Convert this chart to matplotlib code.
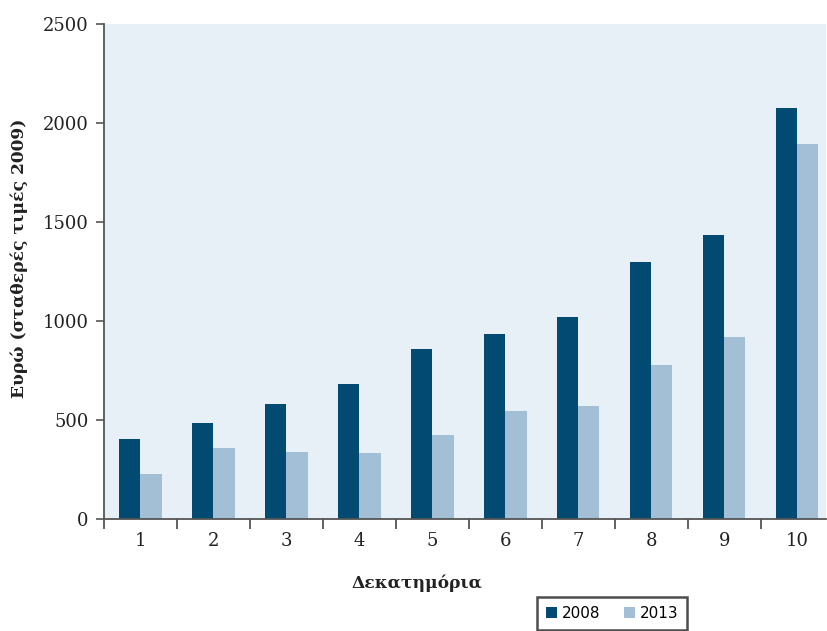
import numpy as np
import matplotlib
matplotlib.use('Agg')
import matplotlib.pyplot as plt

deciles = ['1', '2', '3', '4', '5', '6', '7', '8', '9', '10']
values_2008 = [404, 485, 581, 682, 858, 934, 1020, 1298, 1434, 2076]
values_2013 = [227, 358, 338, 333, 424, 545, 571, 778, 919, 1894]
series_labels = ['2008', '2013']

plt.rcParams['font.family'] = ['DejaVu Serif']

fig = plt.figure(figsize=(8.27, 6.31), dpi=100)
ax = fig.add_axes([104 / 827, 1 - 519 / 631, 722 / 827, 495 / 631])
ax.set_facecolor('#E8F0F7')

x = np.arange(len(deciles))
width = 0.29
ax.bar(x - width / 2, values_2008, width, color='#024A72', label=series_labels[0])
ax.bar(x + width / 2, values_2013, width, color='#A3BFD6', label=series_labels[1])

ax.set_xlim(-0.5, 9.394)
ax.set_ylim(0, 2500)
ax.set_yticks([0, 500, 1000, 1500, 2000, 2500])

# labels at the centres, tick marks at the category boundaries
ax.set_xticks(x)
ax.set_xticklabels(deciles)
ax.set_xticks(np.arange(-0.5, 9.5, 1), minor=True)
ax.tick_params(axis='x', which='major', length=0, pad=9, labelsize=13, colors='#222222')
ax.tick_params(axis='x', which='minor', length=7, width=1.3, color='#555555', direction='out')
ax.tick_params(axis='y', length=6, width=1.2, color='#555555', direction='out', pad=5,
               labelsize=13, labelcolor='#222222')

for side in ['top', 'right']:
    ax.spines[side].set_visible(False)
for side in ['left', 'bottom']:
    ax.spines[side].set_color('#555555')
    ax.spines[side].set_linewidth(1.3)

fig.text(19 / 827, 1 - 258 / 631, 'Ευρώ (σταθερές τιμές 2009)', rotation=90,
         ha='center', va='center', fontsize=12.3, fontweight='bold', color='#222222')
fig.text(417 / 827, 1 - 583 / 631, 'Δεκατημόρια', ha='center', va='center',
         fontsize=12.3, fontweight='bold', color='#222222')

leg = fig.legend(loc='upper left', bbox_to_anchor=(537 / 827, 1 - 597 / 631),
                 borderaxespad=0, ncol=2, frameon=True, fancybox=False, handlelength=0.7,
                 handleheight=0.7, handletextpad=0.3, columnspacing=1.6,
                 borderpad=0.6, prop={'family': 'DejaVu Sans', 'size': 11})
leg.get_frame().set_edgecolor('#222222')
leg.get_frame().set_linewidth(1.8)

fig.savefig('out.png', dpi=100)
